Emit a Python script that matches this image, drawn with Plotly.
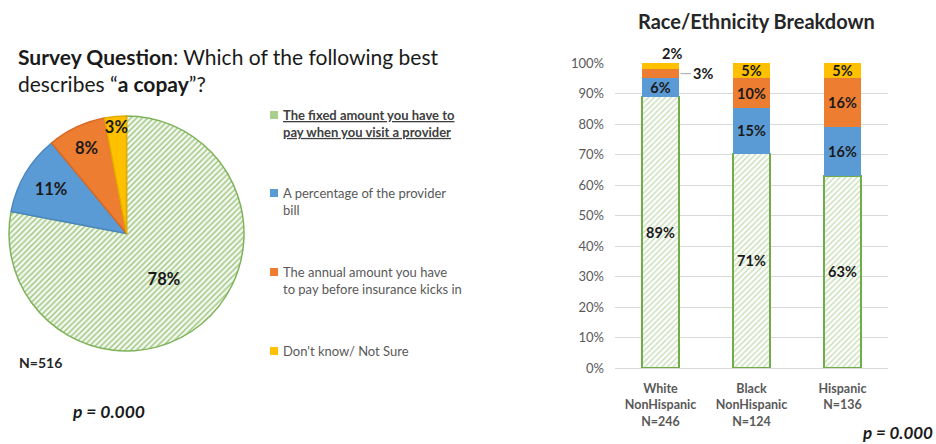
import plotly.graph_objects as go

W, H = 936, 444
FONT = "Lato, 'Open Sans', sans-serif"

# ---- data ----
answers = [
    "The fixed amount you have to<br>pay when you visit a provider",
    "A percentage of the provider<br>bill",
    "The annual amount you have<br>to pay before insurance kicks in",
    "Don't know/ Not Sure",
]
overall_pct = [78, 11, 8, 3]

groups = ["White<br>NonHispanic<br>N=246", "Black<br>NonHispanic<br>N=124", "Hispanic<br>N=136"]
fixed_pct = [89, 71, 63]
percent_pct = [6, 15, 16]
annual_pct = [3, 10, 16]
unsure_pct = [2, 5, 5]

# ---- styles ----
GREEN, BLUE, ORANGE, YELLOW = "#70AD47", "#5B9BD5", "#ED7D31", "#FFC000"
EDGE = ["#7FB35A", "#4A86C0", "#D86A22", "#E5AA00"]
GRAY = "#595959"
DARK = "#1a1a1a"


def px(x):
    return x / W


def py(y):
    return 1 - y / H


fig = go.Figure()

# pie of overall answers
fig.add_trace(go.Pie(
    values=overall_pct,
    labels=[a.replace("<br>", " ") for a in answers],
    sort=False,
    direction="clockwise",
    rotation=0,
    domain=dict(x=[px(9), px(244)], y=[py(351), py(116)]),
    marker=dict(
        colors=[GREEN, BLUE, ORANGE, YELLOW],
        line=dict(color=EDGE, width=1.5),
        pattern=dict(shape=["/", "", "", ""], fgcolor="#9cc47e", bgcolor="#f3f8ee",
                     size=4, solidity=0.35),
    ),
    texttemplate="%{value}%",
    textposition="inside",
    insidetextorientation="horizontal",
    textfont=dict(family=FONT, size=16.5, color=DARK, weight="bold"),
    showlegend=False,
    hoverinfo="label+percent",
))

# stacked 100% bars by group
series = [
    ("fixed", fixed_pct, GREEN),
    ("percent", percent_pct, BLUE),
    ("annual", annual_pct, ORANGE),
    ("unsure", unsure_pct, YELLOW),
]
for name, vals, color in series:
    is_fixed = name == "fixed"
    fig.add_trace(go.Bar(
        x=groups,
        y=vals,
        name=name,
        width=0.41,
        marker=dict(
            color=color,
            line=dict(color=GREEN if is_fixed else color, width=1.5 if is_fixed else 0),
            pattern=dict(shape="/", fgcolor="#8dbb6c", bgcolor="#ffffff", size=4, solidity=0.35)
            if is_fixed else None,
        ),
        text=[f"{v}%" if v >= 5 else "" for v in vals],
        textposition="inside",
        insidetextanchor="middle",
        textangle=0,
        insidetextfont=dict(family=FONT, size=14.5, color=DARK, weight="bold"),
        showlegend=False,
        xaxis="x",
        yaxis="y",
    ))

annotations = []

# labels for the thin White NonHispanic segments
tot0 = fixed_pct[0] + percent_pct[0] + annual_pct[0] + unsure_pct[0]
annotations.append(dict(
    x=groups[0], y=100, xref="x", yref="y", text=f"{unsure_pct[0]}%",
    showarrow=False, xanchor="center", yanchor="bottom", xshift=11, yshift=-1,
    font=dict(family=FONT, size=14.5, color=DARK, weight="bold"),
))
annotations.append(dict(
    x=groups[0], y=(fixed_pct[0] + percent_pct[0] + annual_pct[0] / 2) / tot0 * 100,
    xref="x", yref="y", text=f"{annual_pct[0]}%",
    showarrow=True, arrowhead=0, arrowcolor="#A6A6A6", arrowwidth=1,
    ax=42, ay=0, standoff=20,
    font=dict(family=FONT, size=14.5, color=DARK, weight="bold"),
))

# titles and notes
annotations += [
    dict(x=px(16), y=py(70), xanchor="left", align="left",
         text="<b>Survey Question</b>: Which of the following best<br>describes “<b>a copay</b>”?",
         font=dict(family=FONT, size=21, color=DARK)),
    dict(x=px(756), y=py(21), xanchor="center",
         text="<b>Race/Ethnicity Breakdown</b>",
         font=dict(family=FONT, size=20, color="#262626")),
    dict(x=px(17), y=py(362), xanchor="left",
         text="<b>N=516</b>", font=dict(family=FONT, size=14, color="#262626")),
    dict(x=px(108), y=py(411), xanchor="center",
         text="<b><i>p = 0.000</i></b>", font=dict(family=FONT, size=17.5, color=DARK)),
    dict(x=px(935), y=py(432), xanchor="right",
         text="<b><i>p = 0.000</i></b>", font=dict(family=FONT, size=17, color=DARK)),
]

# legend for the pie
legend_mid = [123.5, 201.5, 280.5, 351]
legend_sw = [115, 193, 272, 351]
swatch_fill = ["#a9cf8c", BLUE, ORANGE, YELLOW]
shapes = []
for i, text in enumerate(answers):
    label = f"<b><u>{text.replace('<br>', '</u></b><br><b><u>')}</u></b>" if i == 0 else text
    annotations.append(dict(
        x=px(281), y=py(legend_mid[i]), xanchor="left", align="left",
        text=label, font=dict(family=FONT, size=13, color="#404040" if i == 0 else GRAY),
    ))
    shapes.append(dict(
        type="rect", xref="paper", yref="paper",
        x0=px(270), x1=px(278), y0=py(legend_sw[i] + 4), y1=py(legend_sw[i] - 4),
        fillcolor=swatch_fill[i], line=dict(width=0),
    ))

for a in annotations:
    if a.get("xref") != "x":
        a.update(xref="paper", yref="paper", yanchor="middle", showarrow=False)

fig.update_layout(
    width=W, height=H,
    margin=dict(l=0, r=0, t=0, b=0, autoexpand=False),
    paper_bgcolor="white", plot_bgcolor="white",
    barmode="stack", barnorm="percent",
    font=dict(family=FONT, color=GRAY),
    uniformtext=dict(minsize=14, mode="show"),
    xaxis=dict(
        domain=[px(615), px(888)], anchor="y", automargin=False,
        showline=True, linecolor="#D9D9D9", linewidth=1,
        showgrid=False, ticks="", ticklabelstandoff=9,
        tickfont=dict(family=FONT, size=12.5, color=GRAY, weight="bold"),
    ),
    yaxis=dict(
        domain=[py(368), py(63)], anchor="x", automargin=False,
        range=[0, 100], dtick=10, ticksuffix="%",
        showgrid=True, gridcolor="#D9D9D9", gridwidth=1,
        zeroline=False, showline=False, ticks="", ticklabelstandoff=10,
        tickfont=dict(family=FONT, size=13, color=GRAY),
    ),
    annotations=annotations,
    shapes=shapes,
)

fig.write_html("out.html")
